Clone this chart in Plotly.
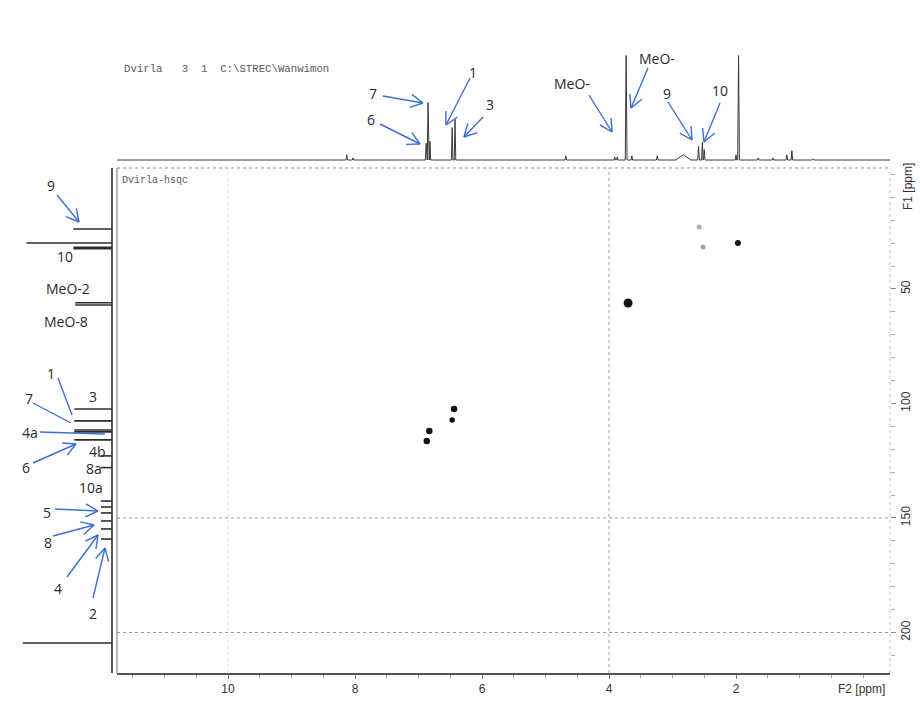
import math
import plotly.graph_objects as go

W, H = 920, 716

# ---------------- data ----------------
# 1H spectrum (F2 projection): peak shift (ppm), height (% of clip level), half width (ppm)
H_PPM = [8.13, 8.03, 6.88, 6.85, 6.82, 6.47, 6.425, 4.68, 3.91, 3.87, 3.73, 3.64,
         3.24, 2.83, 2.59, 2.53, 2.50, 2.00, 1.96, 1.65, 1.42, 1.20, 1.12, 0.79]
H_HEIGHT = [5, 2, 16, 55, 18, 31, 39, 4, 3, 3, 100, 4,
            4, 5, 13, 17, 10, 5, 100, 2, 2, 5, 9, 1]
H_HALFWIDTH = [0.012, 0.012, 0.012, 0.012, 0.012, 0.012, 0.012, 0.012, 0.012, 0.012, 0.014, 0.012,
               0.012, 0.12, 0.014, 0.012, 0.012, 0.012, 0.014, 0.012, 0.012, 0.012, 0.012, 0.02]

# 13C spectrum (F1 projection): shift (ppm), intensity (% of clip level)
C_PPM = [23.8, 29.9, 31.8, 32.4, 56.0, 57.0, 102.4, 107.6, 111.6, 112.4, 115.9,
         122.9, 128.0, 142.6, 145.2, 147.8, 151.3, 154.8, 159.2, 204.6]
C_HEIGHT = [42, 93, 42, 42, 40, 40, 41, 41, 41, 41, 41,
            12, 12, 12, 12, 12, 12, 12, 12, 97]

# HSQC cross peaks: (F2 1H ppm, F1 13C ppm)
XP_F2 = [6.44, 6.47, 6.83, 6.87, 3.70, 1.97, 2.58, 2.52]
XP_F1 = [102.4, 107.2, 112.0, 116.4, 56.1, 29.9, 22.9, 31.7]
XP_MARKER_SIZE = [6.5, 5.5, 6.5, 6.5, 9, 6, 5, 5]
XP_MARKER_COLOR = ["#151515", "#151515", "#151515", "#151515", "#151515", "#151515", "#b0b0b0", "#a0a0a0"]

# axis ticks
F2_TICKS = [10, 8, 6, 4, 2]
F1_TICKS = [50, 100, 150, 200]
F1_GRID = [150, 200]
F2_GRID = [10, 4]

# ---------------- layout geometry (pixels) ----------------
X0_PX, X1_PX = 117, 890          # 2D plot left / right
Y0_PX, Y1_PX = 168, 673          # 2D plot top / bottom
F2_RANGE = [11.748, -0.425]
F1_RANGE = [217.7, -2.84]


def px(x):
    return x / W


def py(y):
    return 1 - y / H


fig = go.Figure()

# ---- 1H trace (top) ----
order = sorted(range(len(H_PPM)), key=lambda i: -H_PPM[i])
hx, hy = [F2_RANGE[0]], [0]
for i in order:
    p, h, w = H_PPM[i], H_HEIGHT[i], H_HALFWIDTH[i]
    hx += [p + w, p, p - w]
    hy += [0, h, 0]
hx.append(F2_RANGE[1])
hy.append(0)
fig.add_trace(go.Scatter(x=hx, y=hy, mode="lines", xaxis="x2", yaxis="y2",
                         line=dict(color="#3a3a3a", width=1), hoverinfo="skip"))

# ---- 13C trace (left, peaks pointing left) ----
cx, cy = [0, 0, None], [F1_RANGE[1], F1_RANGE[0], None]
for p, h in zip(C_PPM, C_HEIGHT):
    cx += [0, h, None]
    cy += [p, p, None]
fig.add_trace(go.Scatter(x=cx, y=cy, mode="lines", xaxis="x3", yaxis="y3",
                         line=dict(color="#2e2e2e", width=1.6), hoverinfo="skip",
                         connectgaps=False))

# ---- HSQC contours ----
fig.add_trace(go.Scatter(x=XP_F2, y=XP_F1, mode="markers", xaxis="x", yaxis="y",
                         marker=dict(size=XP_MARKER_SIZE, color=XP_MARKER_COLOR,
                                     opacity=1, line=dict(width=0)),
                         hoverinfo="skip"))

shapes = []
# dotted grid lines
for v in F1_GRID:
    shapes.append(dict(type="line", xref="x domain", yref="y", x0=0, x1=1, y0=v, y1=v,
                       line=dict(color="#9a9a9a", width=1, dash="dot")))
for v in F2_GRID:
    shapes.append(dict(type="line", xref="x", yref="y domain", x0=v, x1=v, y0=0, y1=1,
                       line=dict(color="#a0a0a0" if v == 4 else "#dcdcdc", width=1, dash="dot")))
# frame: dotted top and right, solid left
shapes.append(dict(type="line", xref="x domain", yref="y domain", x0=0, x1=1, y0=1, y1=1,
                   line=dict(color="#8c8c8c", width=1, dash="dot")))
shapes.append(dict(type="line", xref="x domain", yref="y domain", x0=1, x1=1, y0=0, y1=1,
                   line=dict(color="#c8c8c8", width=1, dash="dot")))
shapes.append(dict(type="line", xref="x domain", yref="y domain", x0=0, x1=0, y0=0, y1=1,
                   line=dict(color="#6a6a6a", width=1)))

# ---- assignment labels and arrows ----
ARROW_COLOR = "#3d6fd2"
LABELS = [
    ("7", 373, 93), ("6", 371, 119), ("1", 473, 72), ("3", 490, 105),
    ("MeO-", 572, 83), ("MeO-", 657, 58), ("9", 667, 93), ("10", 720, 90),
    ("9", 51, 186), ("10", 65, 256), ("MeO-2", 68, 288), ("MeO-8", 66, 321),
    ("1", 51, 373), ("7", 29, 399), ("3", 93, 396), ("4a", 30, 432), ("6", 26, 467),
    ("4b", 97, 452), ("8a", 94, 468), ("10a", 91, 487), ("5", 47, 512),
    ("8", 48, 542), ("4", 58, 588), ("2", 93, 613),
]
ARROWS = [
    (383, 96, 423, 103, True), (380, 124, 420, 144, True), (470, 78, 446, 125, True),
    (483, 117, 464, 137, True), (589, 95, 612, 132, True), (648, 68, 631, 108, True),
    (668, 102, 692, 140, True), (720, 103, 704, 142, True),
    (57, 195, 79, 222, True), (58, 378, 72, 415, False), (33, 403, 71, 423, False),
    (40, 432, 105, 434, False), (33, 463, 76, 444, True), (55, 509, 98, 511, True),
    (53, 536, 94, 525, True), (67, 577, 98, 535, True), (93, 598, 105, 548, True),
]


def seg(xa, ya, xb, yb, width=1.4):
    return dict(type="line", xref="paper", yref="paper",
                x0=px(xa), y0=py(ya), x1=px(xb), y1=py(yb),
                line=dict(color=ARROW_COLOR, width=width))


HEAD_LEN, HEAD_ANG = 14, math.radians(28)
for xa, ya, xb, yb, head in ARROWS:
    shapes.append(seg(xa, ya, xb, yb))
    if head:
        ang = math.atan2(ya - yb, xa - xb)
        for s in (-1, 1):
            a = ang + s * HEAD_ANG
            shapes.append(seg(xb, yb, xb + HEAD_LEN * math.cos(a), yb + HEAD_LEN * math.sin(a)))

annotations = []
for text, x, y in LABELS:
    annotations.append(dict(text=text, x=px(x), y=py(y), xref="paper", yref="paper",
                            xanchor="center", yanchor="middle", showarrow=False,
                            font=dict(family="Open Sans, Noto Sans, sans-serif", size=14,
                                      color="#2a2a2a")))

mono = dict(family="Liberation Mono, DejaVu Sans Mono, monospace", color="#5a5a5a")
annotations.append(dict(text="Dvirla   3  1  C:\\STREC\\Wanwimon", x=px(122), y=py(69),
                        xref="paper", yref="paper", xanchor="left", yanchor="middle",
                        showarrow=False, font=dict(size=10.7, **mono)))
annotations.append(dict(text="Dvirla-hsqc", x=px(120), y=py(180),
                        xref="paper", yref="paper", xanchor="left", yanchor="middle",
                        showarrow=False, font=dict(size=10, **mono)))
axis_font = dict(family="Liberation Sans, Arial, sans-serif", size=12, color="#333333")
annotations.append(dict(text="F2 [ppm]", x=px(861), y=py(689), xref="paper", yref="paper",
                        xanchor="center", yanchor="middle", showarrow=False, font=axis_font))
annotations.append(dict(text="F1 [ppm]", x=px(908), y=py(187), xref="paper", yref="paper",
                        xanchor="center", yanchor="middle", showarrow=False, textangle=-90,
                        font=axis_font))

dom_x = [px(X0_PX), px(X1_PX)]
dom_y = [py(Y1_PX), py(Y0_PX)]

fig.update_layout(
    width=W, height=H,
    margin=dict(l=0, r=0, t=0, b=0),
    paper_bgcolor="white", plot_bgcolor="white",
    showlegend=False,
    shapes=shapes, annotations=annotations,
    xaxis=dict(domain=dom_x, range=F2_RANGE, anchor="y", side="bottom",
               showgrid=False, zeroline=False,
               showline=True, linecolor="#555555", linewidth=1.5,
               tickmode="array", tickvals=F2_TICKS, ticktext=[str(t) for t in F2_TICKS],
               ticks="outside", ticklen=4, tickcolor="#777777",
               minor=dict(tickmode="array", tickvals=[v / 2 for v in range(0, 24)],
                          ticks="outside", ticklen=3, tickcolor="#999999", showgrid=False),
               tickfont=axis_font),
    yaxis=dict(domain=dom_y, range=F1_RANGE, anchor="x", side="right",
               showgrid=False, zeroline=False, showline=False,
               tickmode="array", tickvals=F1_TICKS, ticktext=[str(t) for t in F1_TICKS],
               ticks="outside", ticklen=5, tickcolor="#888888", tickangle=-90,
               minor=dict(tickmode="array", tickvals=list(range(0, 220, 10)),
                          ticks="outside", ticklen=4, tickcolor="#aaaaaa", showgrid=False),
               tickfont=axis_font),
    xaxis2=dict(domain=dom_x, range=F2_RANGE, anchor="y2", visible=False),
    yaxis2=dict(domain=[py(162.1), py(55)], range=[-2, 100.5], anchor="x2", visible=False),
    xaxis3=dict(domain=[px(20), px(114)], range=[100, -2.17], anchor="y3", visible=False),
    yaxis3=dict(domain=dom_y, range=F1_RANGE, anchor="x3", visible=False),
)

fig.write_html("out.html")
